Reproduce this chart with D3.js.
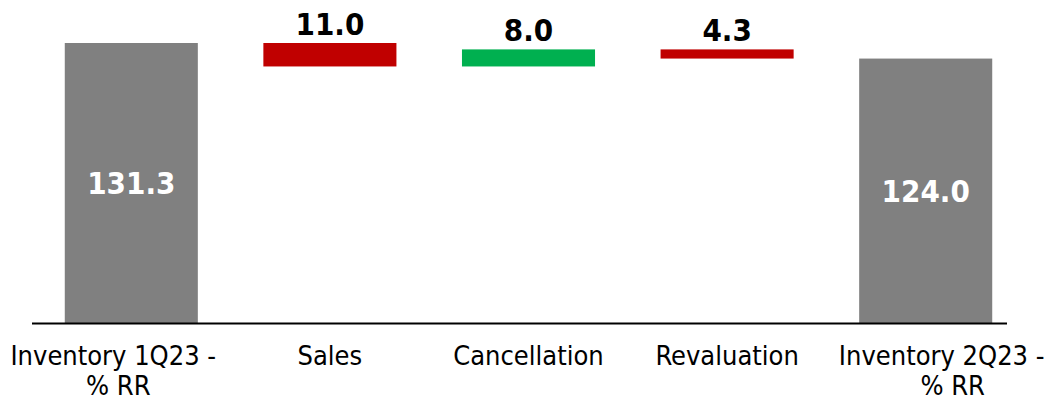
<!DOCTYPE html>
<html>
<head>
<meta charset="utf-8">
<script src="https://cdn.jsdelivr.net/npm/d3@7"></script>
<style>
  body { margin: 0; background: #fff; }
  text { font-family: "DejaVu Sans Condensed", "DejaVu Sans", sans-serif; }
</style>
</head>
<body>
<div id="container"></div>
<script>
let w = 1062;
let h = 402;

// data
let categories = ["Inventory 1Q23 - % RR", "Sales", "Cancellation", "Revaluation", "Inventory 2Q23 - % RR"];
let labelLines = [["Inventory 1Q23 -", "% RR"], ["Sales"], ["Cancellation"], ["Revaluation"], ["Inventory 2Q23 -", "% RR"]];
let values = [131.3, -11.0, 8.0, -4.3, 124.0];
let kinds = ["total", "delta", "delta", "delta", "total"];
let valueLabels = ["131.3", "11.0", "8.0", "4.3", "124.0"];

let colors = { total: "#808080", up: "#00B050", down: "#C00000" };

// build waterfall start/end
let running = 0;
let bars = categories.map(function(c, i) {
  let v = values[i];
  let start, end;
  if (kinds[i] == "total") {
    start = 0; end = v; running = v;
  } else {
    start = running; end = running + v; running = end;
  }
  return { name: c, lines: labelLines[i], value: v, kind: kinds[i], start: start, end: end, label: valueLabels[i] };
});

let viz = d3.select("#container")
  .append("svg")
    .attr("width", w)
    .attr("height", h)
;

let xScale = d3.scaleBand().domain(categories).range([32, 1025]).paddingInner(0.33).paddingOuter(0.165);
let yScale = d3.scaleLinear().domain([0, 131.3]).range([323, 43]);

function barColor(d) {
  if (d.kind == "total") return colors.total;
  return d.value >= 0 ? colors.up : colors.down;
}

// bars
viz.append("g").selectAll("rect").data(bars).enter()
  .append("rect")
    .attr("x", function(d){ return xScale(d.name); })
    .attr("width", xScale.bandwidth())
    .attr("y", function(d){ return yScale(Math.max(d.start, d.end)); })
    .attr("height", function(d){ return Math.abs(yScale(d.start) - yScale(d.end)); })
    .attr("fill", barColor)
;

// baseline
viz.append("line")
  .attr("x1", 32).attr("x2", 1007)
  .attr("y1", yScale(0) + 0.5).attr("y2", yScale(0) + 0.5)
  .attr("stroke", "#000")
  .attr("stroke-width", 2)
;

// value labels
viz.append("g").selectAll("text").data(bars).enter()
  .append("text")
    .text(function(d){ return d.label; })
    .attr("x", function(d){ return xScale(d.name) + xScale.bandwidth() / 2; })
    .attr("y", function(d){
      if (d.kind == "total") return (yScale(0) + yScale(d.end)) / 2;
      return yScale(Math.max(d.start, d.end)) - 8;
    })
    .attr("dy", function(d){ return d.kind == "total" ? "0.36em" : 0; })
    .attr("text-anchor", "middle")
    .attr("font-size", "31px")
    .attr("font-weight", "bold")
    .attr("fill", function(d){ return d.kind == "total" ? "#fff" : "#000"; })
;

// category labels (edge labels sit a bit off-centre in the original)
let shift1 = [-18, 0, 0, 0, 16];
let shift2 = [-13, 0, 0, 0, 27];
let catGroups = viz.append("g").selectAll("text").data(bars).enter()
  .append("text")
    .attr("text-anchor", "middle")
    .attr("font-size", "27px")
    .attr("fill", "#000")
;
catGroups.each(function(d, i) {
  let t = d3.select(this);
  d.lines.forEach(function(line, j) {
    t.append("tspan")
      .attr("x", xScale(d.name) + xScale.bandwidth() / 2 + (j == 0 ? shift1[i] : shift2[i]))
      .attr("y", 365 + j * 30)
      .text(line);
  });
});
</script>
</body>
</html>
